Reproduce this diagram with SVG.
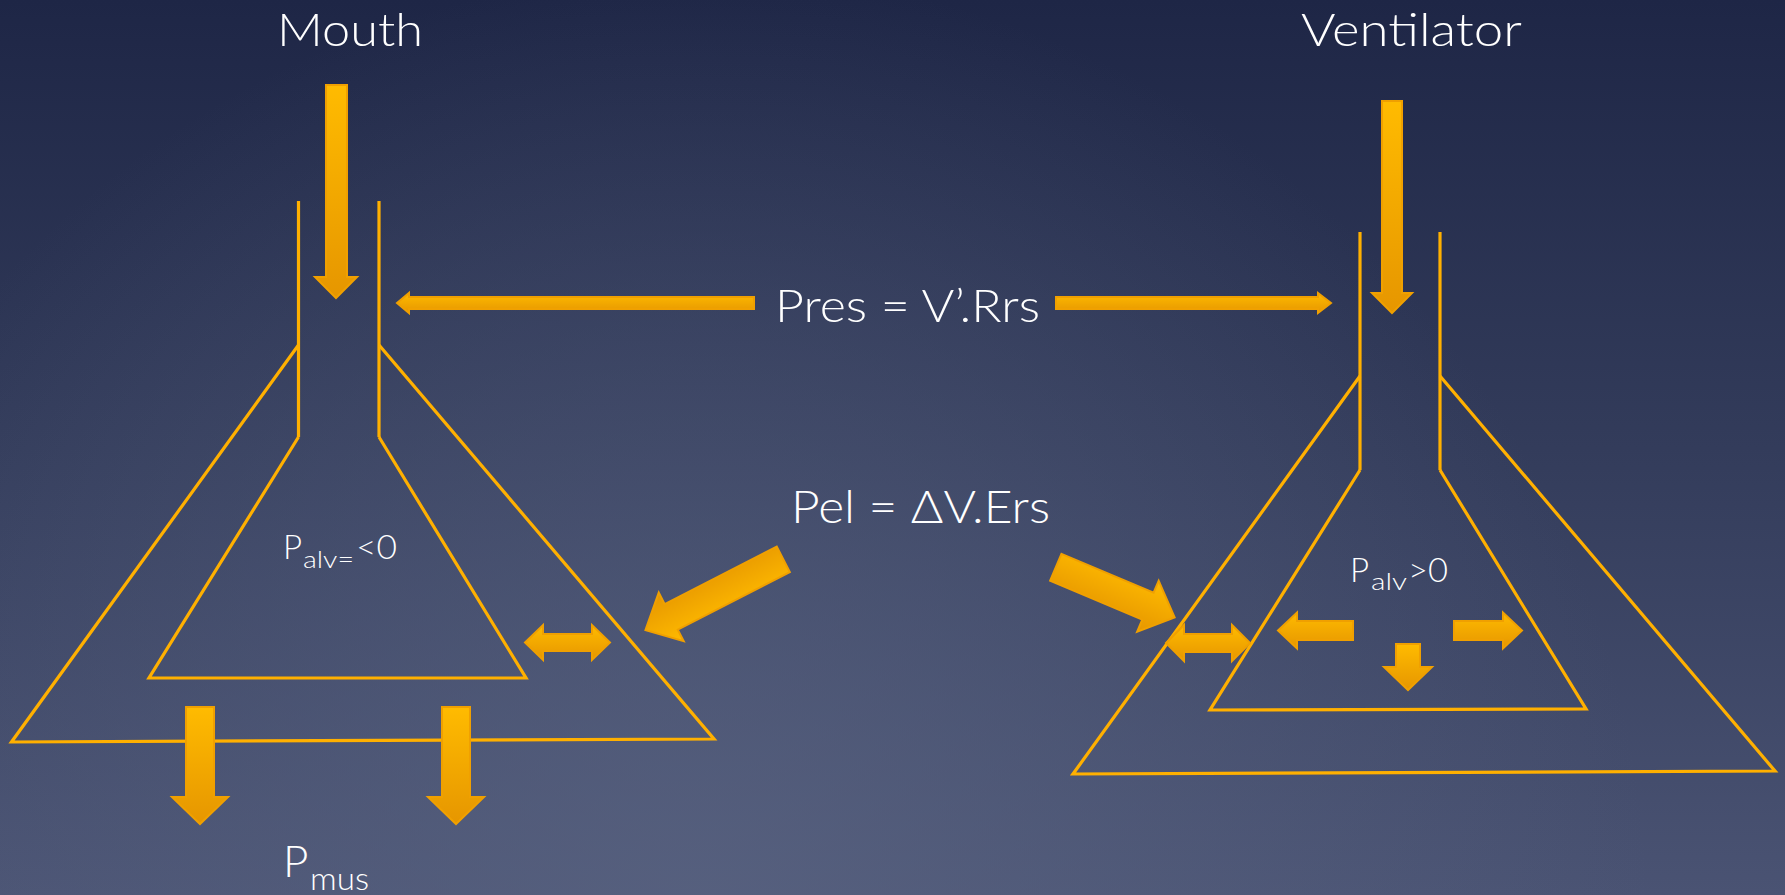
<svg xmlns="http://www.w3.org/2000/svg" width="1785" height="895" viewBox="0 0 1785 895">
  <defs>
    <linearGradient id="bg" x1="0" y1="0" x2="0" y2="1">
      <stop offset="0" stop-color="#1e2646"/>
      <stop offset="0.5" stop-color="#333c5b"/>
      <stop offset="1" stop-color="#4a5373"/>
    </linearGradient>
    <radialGradient id="glow" gradientUnits="userSpaceOnUse" cx="700" cy="920" r="950">
      <stop offset="0" stop-color="#5a6482" stop-opacity="0.75"/>
      <stop offset="1" stop-color="#5a6482" stop-opacity="0"/>
    </radialGradient>
    <linearGradient id="ag" x1="0" y1="0" x2="0" y2="1">
      <stop offset="0" stop-color="#ffbb00"/>
      <stop offset="1" stop-color="#e69600"/>
    </linearGradient>
    <linearGradient id="agh" x1="0" y1="0" x2="1" y2="0">
      <stop offset="0" stop-color="#ffbb00"/>
      <stop offset="1" stop-color="#e69600"/>
    </linearGradient>
  </defs>
  <style>
    .wall { fill: none; stroke: #ffb000; stroke-width: 3.2; stroke-linejoin: miter; stroke-linecap: butt; }
    .arr { fill: url(#ag); stroke: #f0a000; stroke-width: 2; stroke-linejoin: miter; }
    .lbl { fill: #ffffff; font-family: Lato, "Liberation Sans", sans-serif; font-weight: 300; }
  </style>

  <!-- background -->
  <rect x="0" y="0" width="1785" height="895" fill="url(#bg)"/>
  <rect x="0" y="0" width="1785" height="895" fill="url(#glow)"/>

  <!-- spontaneous breathing lung model -->
  <g id="lung-mouth">
    <line class="wall" x1="298.5" y1="201" x2="298.5" y2="437"/>
    <line class="wall" x1="379" y1="201" x2="379" y2="437"/>
    <polyline class="wall" points="298.5,437 149,678 526,678 379,437"/>
    <polyline class="wall" points="298.5,345 11.5,742 714,739 379,345"/>
  </g>

  <!-- ventilated lung model -->
  <g id="lung-ventilator">
    <line class="wall" x1="1360" y1="232" x2="1360" y2="470"/>
    <line class="wall" x1="1440" y1="232" x2="1440" y2="470"/>
    <polyline class="wall" points="1360,470 1210,710 1586,709 1440,470"/>
    <polyline class="wall" points="1360,376 1073,774 1775,771 1440,376"/>
  </g>

  <!-- labels -->
  <g id="label-mouth">
    <text class="lbl" x="350" y="46" font-size="46" text-anchor="middle" textLength="146" lengthAdjust="spacingAndGlyphs">Mouth</text>
  </g>
  <g id="label-ventilator">
    <text class="lbl" x="1411.5" y="46" font-size="46" text-anchor="middle" textLength="221" lengthAdjust="spacingAndGlyphs">Ventilator</text>
  </g>
  <g id="label-pres">
    <text class="lbl" x="775" y="322" font-size="46" textLength="265" lengthAdjust="spacingAndGlyphs">Pres = V’.Rrs</text>
  </g>
  <g id="label-pel">
    <text class="lbl" x="791" y="523" font-size="45" textLength="259" lengthAdjust="spacingAndGlyphs">Pel = ΔV.Ers</text>
  </g>
  <g id="label-palv-neg">
    <text class="lbl" x="283" y="559" font-size="33">P</text>
    <text class="lbl" x="303" y="568" font-size="24" textLength="51" lengthAdjust="spacingAndGlyphs">alv=</text>
    <text class="lbl" x="356" y="559" font-size="33" textLength="41" lengthAdjust="spacingAndGlyphs">&lt;0</text>
  </g>
  <g id="label-palv-pos">
    <text class="lbl" x="1350" y="582" font-size="33">P</text>
    <text class="lbl" x="1371" y="590" font-size="24" textLength="36" lengthAdjust="spacingAndGlyphs">alv</text>
    <text class="lbl" x="1408" y="582" font-size="33" textLength="40" lengthAdjust="spacingAndGlyphs">&gt;0</text>
  </g>
  <g id="label-pmus">
    <text class="lbl" x="283" y="877" font-size="44">P</text>
    <text class="lbl" x="310" y="890" font-size="31" textLength="59" lengthAdjust="spacingAndGlyphs">mus</text>
  </g>

  <!-- connectors: block arrows -->
  <g id="connectors">
    <!-- airflow in at the mouth / from the ventilator -->
    <polygon class="arr" points="326,85 347,85 347,277 357,277 336,298 315,277 326,277"/>
    <polygon class="arr" points="1382,101 1402,101 1402,293 1412,293 1392,313 1372,293 1382,293"/>

    <!-- resistive pressure -->
    <polygon class="arr" points="754,297 754,309 409,309 409,313 397,303 409,293 409,297"/>
    <polygon class="arr" points="1056,297 1318,297 1318,293 1331,303 1318,313 1318,309 1056,309"/>

    <!-- elastic pressure -->
    <polygon class="arr" transform="translate(783.3,559.3) rotate(152.8)" points="0,-14.3 126,-14.3 126,-27.3 155,0 126,27.3 126,14.3 0,14.3"/>
    <polygon class="arr" transform="translate(1055.8,567.3) rotate(22.9)" points="0,-14.6 100,-14.6 100,-27.7 129,0 100,27.7 100,14.6 0,14.6"/>

    <!-- chest wall / lung expansion -->
    <polygon class="arr" points="525,642.5 543,625 543,634 592,634 592,625 610,642.5 592,660 592,651 543,651 543,660"/>
    <polygon class="arr" points="1166,643 1184,625 1184,634 1232,634 1232,625 1250,643 1232,661 1232,652 1184,652 1184,661"/>

    <!-- muscle pressure -->
    <polygon class="arr" points="186,707 214,707 214,797 228,797 200,824 172,797 186,797"/>
    <polygon class="arr" points="442,707 470,707 470,797 484,797 456,824 428,797 442,797"/>

    <!-- alveolar pressure pushing outward -->
    <polygon class="arr" points="1353,621 1353,640 1297,640 1297,648.5 1278,630.5 1297,612.5 1297,621"/>
    <polygon class="arr" points="1454,621 1503,621 1503,612.5 1522,630.5 1503,648.5 1503,640 1454,640"/>
    <polygon class="arr" points="1396,644 1420,644 1420,667 1432,667 1408,690 1384,667 1396,667"/>
  </g>
</svg>
